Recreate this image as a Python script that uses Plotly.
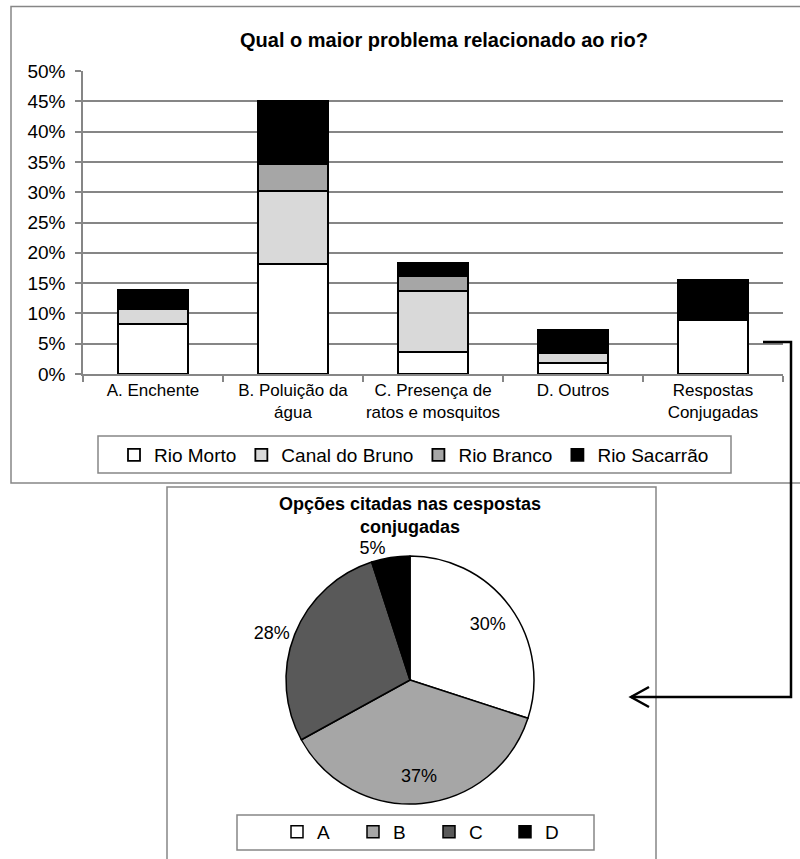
import plotly.graph_objects as go

W, H = 800, 859

categories = ["A. Enchente", "B. Poluição da<br>água", "C. Presença de<br>ratos e mosquitos",
              "D. Outros", "Respostas<br>Conjugadas"]
rio_morto = [0.082, 0.182, 0.036, 0.018, 0.089]
canal_bruno = [0.025, 0.120, 0.101, 0.017, 0.0]
rio_branco = [0.0, 0.044, 0.025, 0.0, 0.0]
rio_sacarrao = [0.031, 0.104, 0.021, 0.038, 0.066]

series_names = ["Rio Morto", "Canal do Bruno", "Rio Branco", "Rio Sacarrão"]
series_vals = [rio_morto, canal_bruno, rio_branco, rio_sacarrao]
series_colors = ["#ffffff", "#d9d9d9", "#a6a6a6", "#000000"]

pie_labels = ["A", "B", "C", "D"]
pie_values = [30, 37, 28, 5]
pie_colors = ["#ffffff", "#a6a6a6", "#595959", "#000000"]

FONT = "Liberation Sans, Arial, sans-serif"
GRAY = "#868686"


def px(x):
    return x / W


def py(y):
    return 1 - y / H


pie_domain = dict(x=[px(410 - 124), px(410 + 124)], y=[py(680 + 124), py(680 - 124)])

fig = go.Figure()
for name, vals, col in zip(series_names, series_vals, series_colors):
    fig.add_trace(go.Bar(
        x=categories, y=vals, name=name, legend="legend",
        marker=dict(color=col, line=dict(color="#000000", width=1.8)),
        hoverinfo="skip",
    ))

# coloured pie (no text)
fig.add_trace(go.Pie(
    labels=pie_labels, values=pie_values, sort=False, direction="clockwise", rotation=0,
    marker=dict(colors=pie_colors, line=dict(color="#000000", width=1.5)),
    textinfo="none", domain=pie_domain, legend="legend2", hoverinfo="skip",
))
# transparent ring on top, only to place the percentage labels nearer the rim
fig.add_trace(go.Pie(
    labels=pie_labels, values=pie_values, sort=False, direction="clockwise", rotation=0,
    hole=0.55, showlegend=False,
    marker=dict(colors=["rgba(0,0,0,0)"] * 4, line=dict(color="rgba(0,0,0,0)", width=0)),
    textinfo="percent", texttemplate="%{percent:.0%}",
    textposition=["inside", "inside", "outside", "outside"],
    insidetextorientation="horizontal",
    textfont=dict(family=FONT, size=18, color="#000000"),
    outsidetextfont=dict(family=FONT, size=18, color="#000000"),
    domain=pie_domain, hoverinfo="skip",
))

shapes = [
    dict(type="rect", xref="paper", yref="paper", x0=px(11), x1=px(812), y0=py(483), y1=py(6.5),
         line=dict(color=GRAY, width=1.5), layer="below"),
    dict(type="rect", xref="paper", yref="paper", x0=px(98), x1=px(731), y0=py(473), y1=py(436),
         line=dict(color=GRAY, width=1.5)),
    dict(type="rect", xref="paper", yref="paper", x0=px(167), x1=px(656), y0=py(880), y1=py(487),
         line=dict(color=GRAY, width=1.5), layer="below"),
    dict(type="rect", xref="paper", yref="paper", x0=px(237), x1=px(594), y0=py(850), y1=py(815),
         line=dict(color=GRAY, width=1.5)),
    dict(type="path", xref="paper", yref="paper",
         path=f"M {px(763)} {py(342)} L {px(791)} {py(342)} L {px(791)} {py(697)} L {px(631)} {py(697)}",
         line=dict(color="#000000", width=2.5)),
    dict(type="path", xref="paper", yref="paper",
         path=f"M {px(649)} {py(687)} L {px(631)} {py(697)} L {px(649)} {py(707)}",
         line=dict(color="#000000", width=2.5)),
]

annotations = [
    dict(text="<b>Qual o maior problema relacionado ao rio?</b>", xref="paper", yref="paper",
         x=px(444), y=py(40), xanchor="center", yanchor="middle", showarrow=False,
         font=dict(family=FONT, size=20, color="#000000")),
    dict(text="<b>Opções citadas nas cespostas<br>conjugadas</b>", xref="paper", yref="paper",
         x=px(410), y=py(515), xanchor="center", yanchor="middle", showarrow=False,
         font=dict(family=FONT, size=18, color="#000000")),
]

fig.update_layout(
    width=W, height=H, margin=dict(l=0, r=0, t=0, b=0, autoexpand=False),
    paper_bgcolor="#ffffff", plot_bgcolor="#ffffff",
    barmode="stack", bargap=0.5,
    font=dict(family=FONT, size=18, color="#000000"),
    showlegend=True,
    xaxis=dict(domain=[px(83), px(783)], showline=True, linecolor=GRAY, linewidth=1.5,
               ticks="outside", tickson="boundaries", ticklen=6, tickcolor=GRAY, tickwidth=1.5,
               tickangle=0, automargin=False,
               tickfont=dict(family=FONT, size=17, color="#000000"), fixedrange=True),
    yaxis=dict(domain=[py(374), py(71)], range=[0, 0.5], dtick=0.05, tickformat=".0%",
               showgrid=True, gridcolor=GRAY, gridwidth=1.5, showline=True, linecolor=GRAY,
               linewidth=1.5, ticks="outside", ticklen=6, tickcolor=GRAY, tickwidth=1.5,
               ticklabelstandoff=6, automargin=False,
               zeroline=False, tickfont=dict(family=FONT, size=19, color="#000000")),
    legend=dict(orientation="h", x=px(414), xanchor="center", y=py(455), yanchor="middle",
                bgcolor="rgba(0,0,0,0)", borderwidth=0, traceorder="normal",
                font=dict(family=FONT, size=19, color="#000000"), itemwidth=30),
    legend2=dict(orientation="h", x=px(429), xanchor="center", y=py(832), yanchor="middle",
                 bgcolor="rgba(0,0,0,0)", borderwidth=0, entrywidth=31,
                 font=dict(family=FONT, size=19, color="#000000"), itemwidth=30),
    shapes=shapes, annotations=annotations,
)

fig.write_html("out.html")
